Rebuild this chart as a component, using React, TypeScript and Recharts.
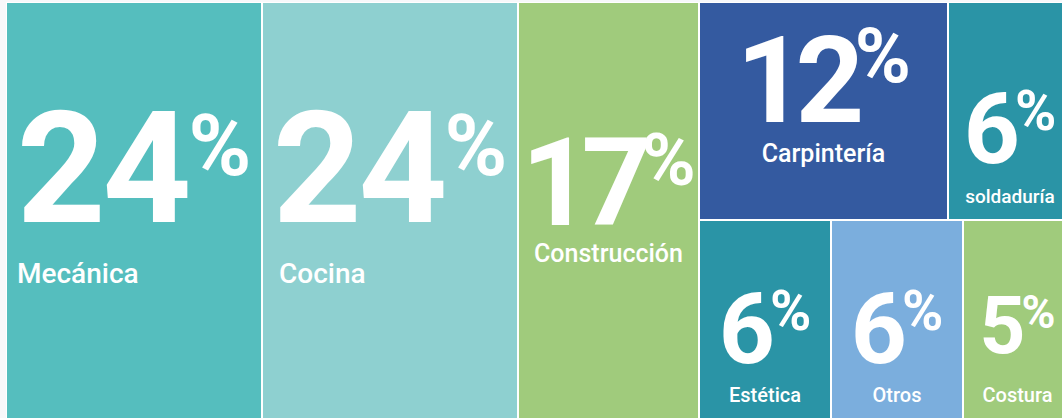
import React from 'react';
import { Treemap } from 'recharts';

// ---- data ----
const categories = ['Mecánica', 'Cocina', 'Construcción', 'Carpintería', 'soldaduría', 'Estética', 'Otros', 'Costura'];
const shares = [24, 24, 17, 12, 6, 6, 6, 5];

// grouping of the tiles (indexes into the arrays above)
const mainColumns = [0, 1, 2];
const upperRight = [3, 4];
const lowerRight = [5, 6, 7];

const leaf = (i: number) => ({ name: categories[i], value: shares[i] });
const treeData = [
  ...mainColumns.map(leaf),
  {
    name: 'resto',
    children: [
      { name: 'arriba', children: upperRight.map(leaf) },
      { name: 'abajo', children: lowerRight.map(leaf) },
    ],
  },
];

// ---- styles ----
type TileStyle = {
  fill: string;
  num: number;
  pct: number;
  numY: number;
  pctShift: number;
  ls: number;
  lab: number;
  labY: number;
  align?: 'start' | 'middle';
  labDx?: number;
};

const STYLE: Record<string, TileStyle> = {
  'Mecánica': { fill: '#55BEBE', num: 155, pct: 85, numY: 220, pctShift: 3, ls: -0.02, lab: 28, labY: 281, align: 'start', labDx: 11 },
  'Cocina': { fill: '#8ED0D0', num: 155, pct: 85, numY: 220, pctShift: 3, ls: -0.02, lab: 28, labY: 281, align: 'start', labDx: 17 },
  'Construcción': { fill: '#A0CB7C', num: 122, pct: 73, numY: 223, pctShift: -5, ls: -0.08, lab: 25, labY: 260 },
  'Carpintería': { fill: '#345AA0', num: 120, pct: 76, numY: 120, pctShift: -9, ls: -0.08, lab: 25, labY: 160 },
  'soldaduría': { fill: '#2A94A6', num: 98, pct: 56, numY: 161, pctShift: -3, ls: -0.05, lab: 19, labY: 201 },
  'Estética': { fill: '#2A94A6', num: 98, pct: 56, numY: 143, pctShift: -3, ls: -0.05, lab: 20, labY: 182 },
  'Otros': { fill: '#7BAEDD', num: 98, pct: 56, numY: 143, pctShift: -3, ls: -0.05, lab: 20, labY: 182 },
  'Costura': { fill: '#A0CB7C', num: 80, pct: 46, numY: 133, pctShift: -1, ls: -0.05, lab: 20, labY: 182 },
};

const CAP = 0.711;
const FONT = 'Roboto, "Open Sans", sans-serif';

function Tile(props: any) {
  const { x, y, width, height, name, value, children } = props;
  if (children && children.length) return <g />;
  const s = STYLE[name];
  if (!s) return <g />;
  const cx = x + width / 2;
  const pctDy = -(s.num - s.pct) * CAP + s.pctShift;
  const align = s.align ?? 'middle';
  return (
    <g>
      <rect x={x} y={y} width={width} height={height} fill={s.fill} stroke="#ffffff" strokeWidth={2} />
      <text x={cx} y={y + s.numY} textAnchor="middle" fill="#ffffff" fontFamily={FONT} fontWeight={700}>
        <tspan fontSize={s.num} letterSpacing={s.ls * s.num}>{value}</tspan>
        <tspan fontSize={s.pct} dy={pctDy}>%</tspan>
      </text>
      <text
        x={align === 'start' ? x + (s.labDx ?? 0) : cx}
        y={y + s.labY}
        textAnchor={align}
        fontSize={s.lab}
        fontWeight={500}
        fill="#ffffff"
        fontFamily={FONT}
      >
        {name}
      </text>
    </g>
  );
}

export default function App() {
  return (
    <div
      style={{
        position: 'absolute',
        left: 0,
        top: 0,
        width: 1062,
        height: 418,
        background: '#f7f8fa',
        overflow: 'hidden',
      }}
    >
      <div style={{ position: 'absolute', left: 6, top: 2 }}>
        <Treemap
          width={1066}
          height={424}
          data={treeData}
          dataKey="value"
          nameKey="name"
          aspectRatio={0.01}
          isAnimationActive={false}
          content={<Tile />}
        />
      </div>
    </div>
  );
}
